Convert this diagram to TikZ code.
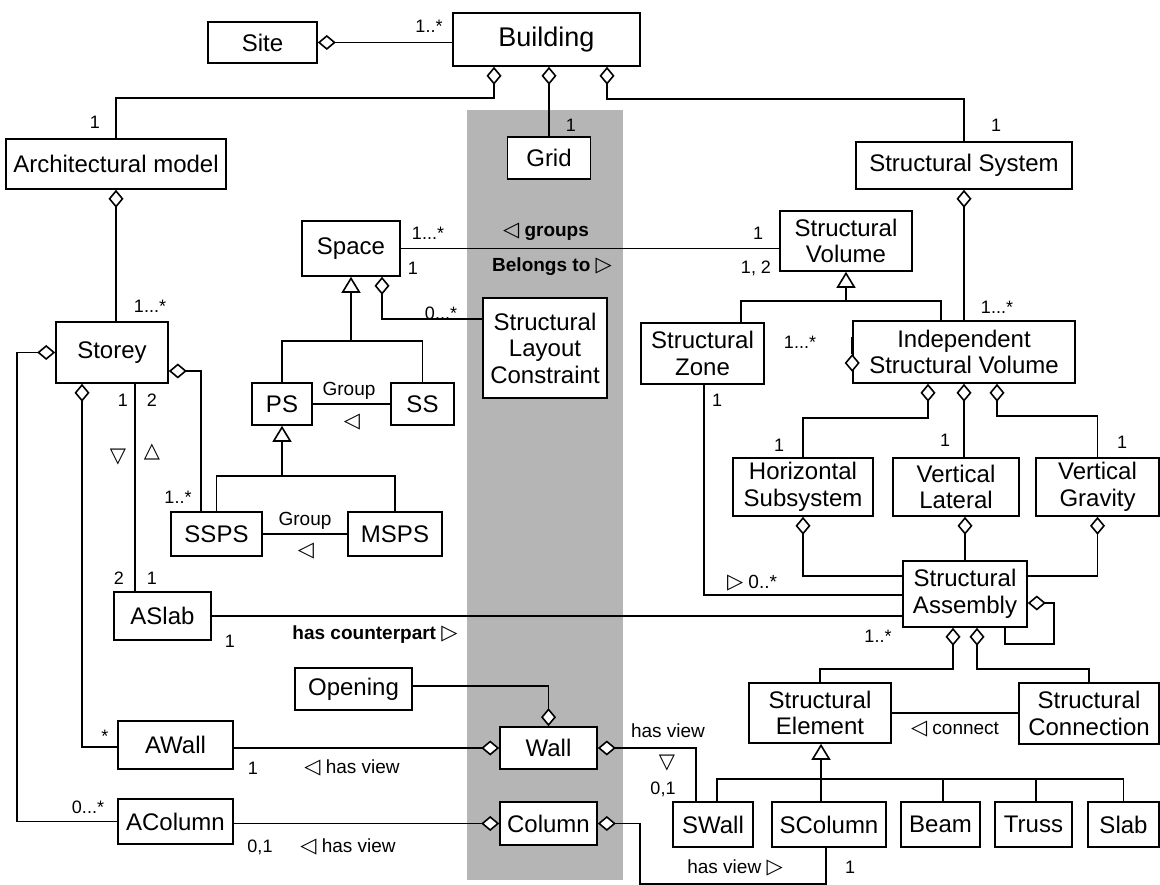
\documentclass[tikz,border=0pt]{standalone}
\usepackage{fontspec}
\setmainfont{Liberation Sans}
\newfontfamily\symfont{DejaVu Sans}
\usetikzlibrary{arrows.meta,calc}
% direction markers for association names
\newcommand\symL{{\symfont\fontsize{21}{22}\selectfont ◁}}
\newcommand\symR{{\symfont\fontsize{21}{22}\selectfont ▷}}
\newcommand\symD{{\symfont\fontsize{21}{22}\selectfont ▽}}
\newcommand\symU{{\symfont\fontsize{21}{22}\selectfont △}}

\begin{document}
\begin{tikzpicture}[x=1pt,y=-1pt,
  every node/.style={font=\fontsize{24}{26.5}\selectfont, inner sep=0pt},
  cls/.style={draw, fill=white, line width=1.6pt, align=center},
  mult/.style={font=\fontsize{18}{20}\selectfont},
  rel/.style={font=\fontsize{19}{21}\selectfont},
  boldrel/.style={font=\fontsize{19}{21}\bfseries\selectfont},
  link/.style={line width=1.6pt},
  agg/.style={link, {Diamond[fill=white,length=18pt,width=15pt]}-},
  gen/.style={link, {Triangle[fill=white,length=16pt,width=19pt]}-},
]
\useasboundingbox (0,0) rectangle (1160,885);

% shaded band behind the shared building elements
\fill[black!29] (467,110) rectangle (623,880);

% classes
\node[cls, minimum width=109pt, minimum height=41pt] (site) at (262.5,42.5) {Site};
\node[cls, minimum width=187pt, minimum height=53pt, font=\fontsize{27}{30}\selectfont] (bld) at (546.5,39.5) {Building};
\node[cls, minimum width=220pt, minimum height=50pt] (arch) at (116,164) {Architectural model};
\node[cls, minimum width=83pt, minimum height=42pt] (grid) at (549,158) {Grid};
\node[cls, minimum width=216pt, minimum height=47pt] (sys) at (964,165.5) {Structural System};
\node[cls, minimum width=112pt, minimum height=61pt] (storey) at (112,352.5) {Storey};
\node[cls, minimum width=98pt, minimum height=55pt] (space) at (351,248.5) {Space};
\node[cls, minimum width=124pt, minimum height=100pt] (slc) at (545,348) {Structural\\Layout\\Constraint};
\node[cls, minimum width=60pt, minimum height=42pt] (ps) at (282,404) {PS};
\node[cls, minimum width=63pt, minimum height=42pt] (ss) at (422.5,404) {SS};
\node[cls, minimum width=91pt, minimum height=44pt] (ssps) at (216.5,534) {SSPS};
\node[cls, minimum width=94pt, minimum height=44pt] (msps) at (395,534) {MSPS};
\node[cls, minimum width=97pt, minimum height=48pt] (aslab) at (162.5,616) {ASlab};
\node[cls, minimum width=132pt, minimum height=60pt] (sv) at (846,241) {Structural\\Volume};
\node[cls, minimum width=123pt, minimum height=61pt] (sz) at (702.5,353.5) {Structural\\Zone};
\node[cls, minimum width=222pt, minimum height=62pt] (isv) at (964,352) {Independent\\Structural Volume};
\node[cls, minimum width=140pt, minimum height=58pt] (hs) at (803,487) {Horizontal\\Subsystem};
\node[cls, minimum width=126pt, minimum height=58pt] (vl) at (956,487) {Vertical\\Lateral};
\node[cls, minimum width=123pt, minimum height=58pt] (vg) at (1097.5,487) {Vertical\\Gravity};
\node[cls, minimum width=124pt, minimum height=66pt] (sa) at (965,594) {Structural\\Assembly};
\node[cls, minimum width=142pt, minimum height=60pt] (se) at (820,713) {Structural\\Element};
\node[cls, minimum width=140pt, minimum height=61pt] (sc) at (1089,713.5) {Structural\\Connection};
\node[cls, minimum width=80pt, minimum height=45pt] (swall) at (713,824.5) {SWall};
\node[cls, minimum width=114pt, minimum height=45pt] (scol) at (829,824.5) {SColumn};
\node[cls, minimum width=79pt, minimum height=45pt] (beam) at (940.5,824.5) {Beam};
\node[cls, minimum width=77pt, minimum height=45pt] (truss) at (1033.5,824.5) {Truss};
\node[cls, minimum width=71pt, minimum height=45pt] (slab) at (1123.5,824.5) {Slab};
\node[cls, minimum width=117pt, minimum height=42pt] (opening) at (353.5,689) {Opening};
\node[cls, minimum width=97pt, minimum height=42pt] (wall) at (548.5,748) {Wall};
\node[cls, minimum width=97pt, minimum height=43pt] (column) at (548.5,823.5) {Column};
\node[cls, minimum width=115pt, minimum height=48pt] (awall) at (175.5,745) {AWall};
\node[cls, minimum width=115pt, minimum height=45pt] (acol) at (175.5,821.5) {AColumn};

% building decomposition
\draw[agg] (site.east) -- (site.east -| bld.west);
\draw[agg] ([xshift=-52.5pt]bld.south) -- ++(0,31) -| (arch.north);
\draw[agg] ([xshift=2.5pt]bld.south) -- (grid.north);
\draw[agg] ([xshift=60.5pt]bld.south) -- ++(0,32) -| (sys.north);

% architectural side
\draw[agg] (arch.south) -- (arch.south |- storey.north);
\draw[agg] (storey.west) -- ++(-38,0) |- (acol.west);
\draw[agg] ([xshift=-30pt]storey.south) |- ($(awall.west)+(0,2)$);
\draw[link] ([xshift=23pt]storey.south) -- ([xshift=23pt]storey.south |- aslab.north);
\draw[agg] ($(storey.east)+(0,18.5)$) -| ($(ssps.north west)+(31,0)$);

% spaces
\draw[link] (space.east) -- (space.east -| sv.west);
\draw[gen] (space.south) -- ++(0,64) coordinate (spj);
\draw[link] (ps.north) |- (spj) -| (ss.north);
\draw[agg] ([xshift=31pt]space.south) |- ($(slc.north west)+(0,22)$);
\draw[link] (ps.east) -- (ss.west);
\draw[gen] (ps.south) -- ++(0,50) coordinate (psj);
\draw[link] (ssps.north) |- (psj) -| (msps.north);
\draw[link] (ssps.east) -- (msps.west);

% counterpart link
\draw[link] (aslab.east) -- (aslab.east -| sa.west);

% structural side
\draw[gen] (sv.south) -- ++(0,29) coordinate (svj);
\draw[link] ($(sz.north)+(38.5,0)$) |- (svj) -| ($(isv.north)+(-23,0)$);
\draw[agg] (sys.south) -- (isv.north);
\draw[agg] ($(isv.west)+(0,2)$) -- ($(isv.west)+(0,2)$ -| sz.east);
\draw[agg] ($(isv.south)+(-36,0)$) -- ++(0,34) -| (hs.north);
\draw[agg] (isv.south) -- (isv.south |- vl.north);
\draw[agg] ($(isv.south)+(33,0)$) -- ++(0,32) -| (vg.north);
\draw[link] ($(sz.south)+(1.5,0)$) |- ($(sa.west)+(0,1)$);
\draw[agg] (hs.south) |- ($(sa.north west)+(0,16)$);
\draw[agg] (vl.south -| sa.north) -- (sa.north);
\draw[agg] (vg.south) |- ($(sa.north east)+(0,16)$);
\draw[agg] ($(sa.east)+(0,9)$) -- ++(26,0) |- ($(sa.south)+(40,16)$) -- ($(sa.south)+(40,0)$);
\draw[agg] ($(sa.south)+(-12,0)$) -- ++(0,41) -| (se.north);
\draw[agg] ($(sa.south)+(12,0)$) -- ++(0,41) -| (sc.north);
\draw[link] (se.east) -- (se.east -| sc.west);
\draw[gen] ([xshift=1pt]se.south) -- ++(0,35) coordinate (sej) -- (sej |- scol.north);
\draw[link] ([xshift=4pt]swall.north) |- (sej) -| (slab.north);
\draw[link] ([xshift=2.5pt]beam.north) -- ([xshift=2.5pt]beam.north |- sej);
\draw[link] ([xshift=2.5pt]truss.north) -- ([xshift=2.5pt]truss.north |- sej);

% shared elements and their views
\draw[agg] (wall.north) |- ($(opening.east)+(0,-3)$);
\draw[agg] (wall.west) -- (wall.west -| awall.east);
\draw[agg] (wall.east) -| ($(swall.north)+(-17,0)$);
\draw[agg] (column.west) -- (column.west -| acol.east);
\draw[agg] (column.east) -- ++(42,0) |- ($(scol.south)+(-3,36)$) -- ($(scol.south)+(-3,0)$);

% multiplicities and association names
\node[mult] (m1) at (429,26) {1..*};
\node[mult] (m2) at (95,122) {1};
\node[mult] (m3) at (571,125) {1};
\node[mult] (m4) at (996,125) {1};
\node[mult] (m5) at (150,306) {1...*};
\node[mult] (m6) at (88,807) {0...*};
\node[mult] (m7) at (105,736) {*};
\node[mult] (m8) at (123,400) {1};
\node[mult] (m9) at (152,400) {2};
\node[rel] (d1) at (118,457) {\symD};
\node[rel] (d2) at (152,452) {\symU};
\node[mult] (m10) at (119,578) {2};
\node[mult] (m11) at (152,578) {1};
\node[mult] (m12) at (178,497) {1..*};
\node[mult] (m13) at (428,233) {1...*};
\node[mult] (m14) at (413,268) {1};
\node[boldrel] (n1) at (546,232) {\symL\ groups};
\node[boldrel] (n2) at (552,267) {Belongs to \symR};
\node[mult] (m15) at (758,233) {1};
\node[mult] (m16) at (756,268) {1, 2};
\node[mult] (m17) at (441,313) {0...*};
\node[rel] (n3) at (349,391) {Group};
\node[rel] (d3) at (352,422) {\symL};
\node[rel] (n4) at (305,521) {Group};
\node[rel] (d4) at (306,551) {\symL};
\node[mult] (m18) at (230,641) {1};
\node[boldrel] (n5) at (375,635) {has counterpart \symR};
\node[mult] (m19) at (878,636) {1..*};
\node[mult] (m20) at (997,307) {1...*};
\node[mult] (m21) at (800,342) {1...*};
\node[mult] (m22) at (779,445) {1};
\node[mult] (m23) at (945,440) {1};
\node[mult] (m24) at (1122,442) {1};
\node[mult] (m25) at (717,400) {1};
\node[rel] (n6) at (752,583) {\symR\ 0..*};
\node[rel] (n7) at (955,729) {\symL\ connect};
\node[mult] (m26) at (253,768) {1};
\node[rel] (n8) at (352,768) {\symL\ has view};
\node[rel] (n9) at (668,731) {has view};
\node[rel] (d5) at (667,763) {\symD};
\node[mult] (m27) at (663,789) {0,1};
\node[mult] (m28) at (260,847) {0,1};
\node[rel] (n10) at (348,847) {\symL\ has view};
\node[rel] (n11) at (735,868) {has view \symR};
\node[mult] (m29) at (850,867) {1};
\end{tikzpicture}
\end{document}
